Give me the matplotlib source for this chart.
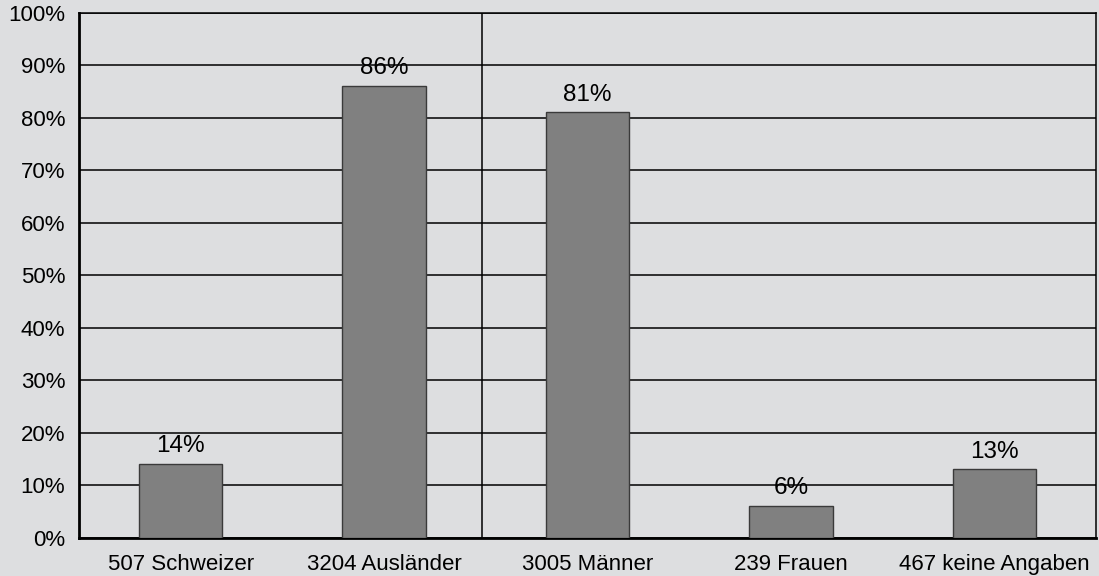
import matplotlib.pyplot as plt

categories = ["507 Schweizer", "3204 Ausländer", "3005 Männer", "239 Frauen", "467 keine Angaben"]
shares = [14, 86, 81, 6, 13]
yticks = list(range(0, 101, 10))

plt.rcParams["font.family"] = ["Liberation Sans", "DejaVu Sans"]
bg = "#dddee0"

fig = plt.figure(figsize=(10.99, 5.76), dpi=100, facecolor=bg)
ax = fig.add_axes([79 / 1099, 1 - 537.7 / 576, (1096 - 79) / 1099, 525 / 576])
ax.set_facecolor(bg)

x = list(range(len(categories)))
ax.set_axisbelow(True)
ax.grid(axis="y", color="black", linewidth=1.1)
bars = ax.bar(x, shares, width=0.41, color="#808080", edgecolor="#3a3a3a", linewidth=1.0, zorder=3)
for xi, v in zip(x, shares):
    ax.text(xi, v + 1.3, f"{v}%", ha="center", va="bottom", fontsize=17.5)

# separator between nationality and gender groups
ax.axvline(1.48, color="black", linewidth=1.1)

ax.set_xlim(-0.5, len(categories) - 0.5)
ax.set_ylim(0, 100)
ax.set_yticks(yticks, [f"{t}%" for t in yticks])
ax.set_xticks(x, categories)
ax.tick_params(axis="both", length=0, labelsize=16)
ax.tick_params(axis="y", pad=10)
ax.tick_params(axis="x", pad=12)
for side in ["left", "bottom"]:
    ax.spines[side].set_linewidth(2)
for side in ["top", "right"]:
    ax.spines[side].set_linewidth(1.1)

fig.savefig("out.png", dpi=100, facecolor=bg)
